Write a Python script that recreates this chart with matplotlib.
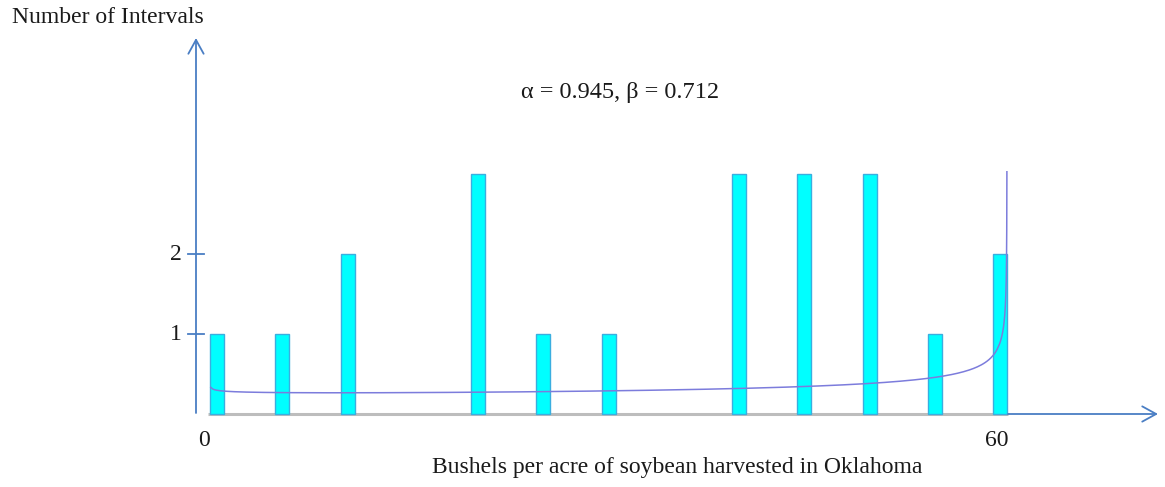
import numpy as np
import matplotlib
matplotlib.use("Agg")
import matplotlib.pyplot as plt
from math import lgamma, exp

# Histogram of yields (bushels per acre), one bar per interval start
bushels = [0, 5, 10, 20, 25, 30, 40, 45, 50, 55, 60]
counts = [1, 1, 2, 3, 1, 1, 3, 3, 3, 1, 2]

# Fitted beta distribution parameters
alpha = 0.945
beta = 0.712
y_ticks = [1, 2]
x_tick_labels = ["0", "60"]

W, H = 1165, 487
fig = plt.figure(figsize=(W / 100, H / 100), dpi=100)
ax = fig.add_axes([0, 0, 1, 1])
ax.axis("off")

# data <-> pixel layout: 13.05 px per bushel, 80 px per interval count
PX_X, X0_PX = 13.05, 217.0
PX_Y, Y0_PX = 80.0, 414.0
ax.set_xlim(-X0_PX / PX_X, (W - X0_PX) / PX_X)
ax.set_ylim(-(H - Y0_PX) / PX_Y, Y0_PX / PX_Y)


def dx(px):
    return (px - X0_PX) / PX_X


def dy(py):
    return (Y0_PX - py) / PX_Y


serif = "Liberation Serif"
axis_blue = "#4A7EC4"
txt = "#1a1a1a"
fs = 17

# bars
bar_w = 14 / PX_X
ax.bar(bushels, counts, width=bar_w, color="#00FFFF", edgecolor="#3AAEE0",
       linewidth=1.0, zorder=3)

# fitted beta density stretched over the bar range
a_lo = bushels[0] - bar_w / 2
b_hi = bushels[-1] + bar_w / 2
t = np.concatenate([np.linspace(1e-3, 0.99, 400), 1 - np.logspace(-2, -3.9, 200)])
log_B = lgamma(alpha) + lgamma(beta) - lgamma(alpha + beta)
pdf = t ** (alpha - 1) * (1 - t) ** (beta - 1) / exp(log_B)
scale = 0.335
ax.plot(a_lo + t * (b_hi - a_lo), pdf * scale, color="#7C7CDC", lw=1.1, zorder=4)

# baseline (gray) under the bars, then blue arrow
ax.plot([dx(208), dx(1008)], [0, 0], color="#BDBDBD", lw=2.2, zorder=2,
        solid_capstyle="butt")
arrow_style = "->,head_length=1.0,head_width=0.55"
ax.annotate("", xy=(dx(1158), 0), xytext=(dx(1008), 0),
            arrowprops=dict(arrowstyle=arrow_style, color=axis_blue, lw=1.3,
                            shrinkA=0, shrinkB=0))

# y axis with arrow
ax.annotate("", xy=(dx(196), dy(38)), xytext=(dx(196), dy(413)),
            arrowprops=dict(arrowstyle=arrow_style, color=axis_blue, lw=1.3,
                            shrinkA=0, shrinkB=0))
for yt in y_ticks:
    ax.plot([dx(188), dx(204)], [yt, yt], color=axis_blue, lw=1.3)
    ax.text(dx(176), yt, str(yt), ha="center", va="center", fontsize=fs,
            family=serif, color=txt)

# x tick labels
ax.text(dx(204), dy(440), x_tick_labels[0], ha="center", va="center",
        fontsize=fs, family=serif, color=txt)
ax.text(dx(997), dy(440), x_tick_labels[1], ha="center", va="center",
        fontsize=fs, family=serif, color=txt)

# titles
ax.text(dx(108), dy(18), "Number of Intervals", ha="center", va="center",
        fontsize=fs, family=serif, color=txt)
ax.text(dx(620), dy(93), f"α = {alpha}, β = {beta}", ha="center", va="center",
        fontsize=17.5, family=serif, color=txt)
ax.text(dx(677), dy(467), "Bushels per acre of soybean harvested in Oklahoma",
        ha="center", va="center", fontsize=fs, family=serif, color=txt)

fig.savefig("out.png", dpi=100)
